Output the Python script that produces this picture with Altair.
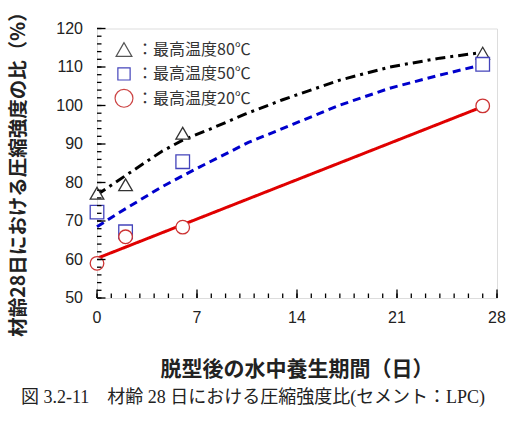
import altair as alt
import pandas as pd

# ---- data ----
series = ["最高温度80℃", "最高温度50℃", "最高温度20℃"]
days = [0, 2, 6, 27]
ratio_80 = [77.2, 79.4, 92.8, 113.6]
ratio_50 = [72.3, 67.2, 85.4, 110.7]
ratio_20 = [59.0, 65.9, 68.4, 99.9]

fit80_x = [0, 2, 4.5, 6, 8, 10.4, 13, 17, 20.5, 24, 27]
fit80_y = [76.8, 81.8, 88.0, 91.0, 94.0, 97.8, 101.5, 106.6, 110.0, 112.3, 113.8]
fit50_x = [0, 1.3, 4.5, 6.9, 10.6, 13.7, 17, 20.5, 24, 27]
fit50_y = [68.5, 71.6, 78.8, 83.5, 90.4, 95.1, 100.1, 104.5, 107.9, 110.6]
fit20_x = [0, 27]
fit20_y = [60.3, 99.7]

x_major = [0, 7, 14, 21, 28]
x_minor = list(range(0, 29))
y_major = [50, 60, 70, 80, 90, 100, 110, 120]
y_minor = list(range(50, 121, 2))

x_title = "脱型後の水中養生期間（日）"
y_title = "材齢28日における圧縮強度の比（%）"
caption = "図 3.2-11　材齢 28 日における圧縮強度比(セメント：LPC)"

# ---- styles ----
shapes = ["triangle-up", "square", "circle"]
marker_colors = ["#333333", "#4444bb", "#cc3333"]
legend_colors = ["#555555", "#4444bb", "#cc4444"]
legend_sizes = [250, 150, 320]
line_colors = ["#000000", "#0000cc", "#e00000"]
line_dashes = [[10, 5, 3, 5], [8, 5], [1, 0]]

# ---- tables ----
pts = pd.DataFrame(
    [(d, v, series[0]) for d, v in zip(days, ratio_80)]
    + [(d, v, series[1]) for d, v in zip(days, ratio_50)]
    + [(d, v, series[2]) for d, v in zip(days, ratio_20)],
    columns=["day", "val", "series"],
)
fits = pd.DataFrame(
    [(d, v, series[0]) for d, v in zip(fit80_x, fit80_y)]
    + [(d, v, series[1]) for d, v in zip(fit50_x, fit50_y)]
    + [(d, v, series[2]) for d, v in zip(fit20_x, fit20_y)],
    columns=["day", "val", "series"],
)
xt_major = pd.DataFrame({"day": x_major})
xt_minor = pd.DataFrame({"day": x_minor})
yt_major = pd.DataFrame({"val": y_major})
yt_minor = pd.DataFrame({"val": y_minor})
leg_df = pd.DataFrame({"series": series})

W, H = 400, 269.5
SANS = "Liberation Sans, Noto Sans CJK JP"
JP = "Noto Sans CJK JP"
SERIF = "Liberation Serif, Noto Sans CJK JP"

xs = alt.Scale(domain=[0, 28], nice=False, zero=False)
ys = alt.Scale(domain=[50, 120], nice=False, zero=False)

lines = alt.Chart(fits).mark_line(strokeWidth=3, strokeCap="butt").encode(
    x=alt.X("day:Q", scale=xs, axis=None),
    y=alt.Y("val:Q", scale=ys, axis=None),
    color=alt.Color("series:N", scale=alt.Scale(domain=series, range=line_colors), legend=None),
    strokeDash=alt.StrokeDash("series:N", scale=alt.Scale(domain=series, range=line_dashes), legend=None),
)

points = alt.Chart(pts).mark_point(size=185, strokeWidth=1.3, filled=True, fill="white", opacity=1).encode(
    x=alt.X("day:Q", scale=xs, axis=None),
    y=alt.Y("val:Q", scale=ys, axis=None),
    shape=alt.Shape("series:N", scale=alt.Scale(domain=series, range=shapes), legend=None),
    stroke=alt.Stroke("series:N", scale=alt.Scale(domain=series, range=marker_colors), legend=None),
)


# inward tick marks placed through the scales
def xticks(df, length):
    return alt.Chart(df).mark_tick(color="black", thickness=1.3, size=length,
                                   orient="vertical", opacity=1).encode(
        x=alt.X("day:Q", scale=xs, axis=None), y=alt.value(H - length / 2))


def yticks(df, length):
    return alt.Chart(df).mark_tick(color="black", thickness=1.3, size=length,
                                   orient="horizontal", opacity=1).encode(
        y=alt.Y("val:Q", scale=ys, axis=None), x=alt.value(length / 2))


# tick labels through the scales
x_labels = alt.Chart(xt_major).mark_text(
    font=SANS, fontSize=16, color="#222", align="center", baseline="middle"
).encode(x=alt.X("day:Q", scale=xs, axis=None), y=alt.value(H + 19.5), text=alt.Text("day:Q"))
y_labels = alt.Chart(yt_major).mark_text(
    font=SANS, fontSize=16, color="#222", align="right", baseline="middle"
).encode(y=alt.Y("val:Q", scale=ys, axis=None), x=alt.value(-14), text=alt.Text("val:Q"))

# axis titles and caption
x_title_layer = alt.Chart(pd.DataFrame({"label": [x_title]})).mark_text(
    font=JP, fontSize=21, fontWeight="bold", color="#222", align="center", baseline="middle"
).encode(x=alt.value(W / 2), y=alt.value(341.5), text="label:N")
y_title_layer = alt.Chart(pd.DataFrame({"label": [y_title]})).mark_text(
    font=JP, fontSize=19.5, fontWeight="bold", color="#222", align="center", baseline="middle",
    angle=270
).encode(x=alt.value(-78), y=alt.value(141), text="label:N")
caption_layer = alt.Chart(pd.DataFrame({"label": [caption]})).mark_text(
    font=SERIF, fontSize=18, color="#222", align="center", baseline="middle"
).encode(x=alt.value(156), y=alt.value(369.5), text="label:N")

# legend drawn inside the plot, top-left
legend_layers = []
for i, s in enumerate(series):
    row_y = 21 + 24.4 * i
    legend_layers.append(
        alt.Chart(leg_df).transform_filter(alt.datum.series == s).mark_point(
            shape=shapes[i], stroke=legend_colors[i], size=legend_sizes[i],
            strokeWidth=1.2, filled=True, fill="white", opacity=1,
        ).encode(x=alt.value(27), y=alt.value(row_y))
    )
    legend_layers.append(
        alt.Chart(leg_df).transform_filter(alt.datum.series == s)
        .transform_calculate(lab="'：' + datum.series")
        .mark_text(align="left", baseline="middle", font=JP, fontSize=16, color="#333")
        .encode(x=alt.value(40), y=alt.value(row_y + 0.5), text="lab:N")
    )

chart = alt.layer(
    lines, points,
    xticks(xt_minor, 4.5), xticks(xt_major, 8.5),
    yticks(yt_minor, 4.5), yticks(yt_major, 8.5),
    x_labels, y_labels, x_title_layer, y_title_layer, caption_layer,
    *legend_layers,
).properties(
    width=W, height=H,
    autosize=alt.AutoSizeParams(type="none"),
    padding={"left": 97, "top": 28.5, "right": 12, "bottom": 137},
).configure_view(stroke="black", strokeWidth=1.5).configure(background="white")

chart.save("out.html", embed_options={"renderer": "svg", "actions": False})
